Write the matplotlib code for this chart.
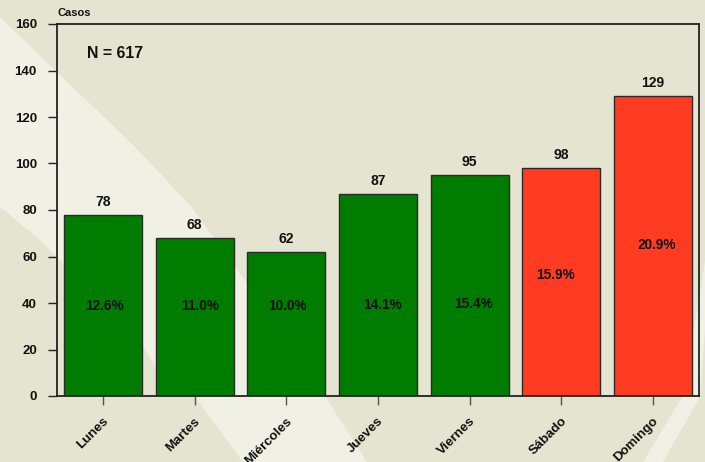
import matplotlib
matplotlib.use("Agg")
import matplotlib.pyplot as plt
from matplotlib.patches import Polygon

# ---- data ----
days = ["Lunes", "Martes", "Miércoles", "Jueves", "Viernes", "Sábado", "Domingo"]
cases = [78, 68, 62, 87, 95, 98, 129]
percent_labels = ["12.6%", "11.0%", "10.0%", "14.1%", "15.4%", "15.9%", "20.9%"]
total_label = "N = 617"
y_ticks = [0, 20, 40, 60, 80, 100, 120, 140, 160]

# ---- styling / positions ----
GREEN = "#007C00"
RED = "#FF3C22"
BG = "#E5E4D0"
LIGHT = "#F0F0E4"
bar_colors = [GREEN] * 5 + [RED] * 2
pct_y = [38.8, 38.7, 38.7, 39.1, 39.6, 52.2, 65.0]
pct_dx_px = [2, 5, 1, 5, 3.5, -5.5, 4]

plt.rcParams['font.family'] = ['Liberation Sans', 'DejaVu Sans']
plt.rcParams['font.weight'] = 'bold'

W, H = 705, 462
fig = plt.figure(figsize=(W / 100, H / 100), dpi=100, facecolor=BG)

def fp(pts):
    return [(x / W, 1 - y / H) for x, y in pts]

# light background beams
beam1 = [(0, 17), (57, 72), (133, 145), (190, 205), (247, 283), (325, 396), (367, 462),
         (243, 462), (195, 397), (156, 368), (142, 345), (55, 255), (40, 240), (0, 207)]
beam2 = [(643, 462), (682, 397), (694, 330), (705, 260), (705, 330), (700, 397), (663, 462)]
for b in (beam1, beam2):
    fig.add_artist(Polygon(fp(b), closed=True, transform=fig.transFigure,
                           facecolor=LIGHT, edgecolor='none', zorder=0))

ax = fig.add_axes([57 / W, 1 - 396 / H, (699 - 57) / W, (396 - 24) / H])
ax.set_facecolor('none')
ax.set_xlim(-0.5, 6.5)
ax.set_ylim(0, 160)

x = list(range(len(days)))
ax.bar(x, cases, width=0.85, color=bar_colors, edgecolor='#2a2a2a', linewidth=1.0, zorder=2)

for i, v in enumerate(cases):
    ax.annotate(str(v), (i, v), xytext=(0, 9.4), textcoords='offset points',
                ha='center', va='center', fontsize=10, fontweight='bold', color='#111111')
    ax.annotate(percent_labels[i], (i, pct_y[i]), xytext=(pct_dx_px[i] * 0.72, 0),
                textcoords='offset points', ha='center', va='center',
                fontsize=9.8, fontweight='bold', color='#111111')

for s in ax.spines.values():
    s.set_color('#222222')
    s.set_linewidth(1.3)

ax.set_yticks(y_ticks)
ax.set_yticklabels([str(t) for t in y_ticks], fontsize=9.5, fontweight='bold', color='#111111')
ax.tick_params(axis='y', length=6.5, width=1.0, color='#222222', pad=8)

ax.set_xticks(x)
ax.set_xticklabels([])
ax.tick_params(axis='x', length=6.5, width=1.0, color='#555555')

for i, d in enumerate(days):
    ax.annotate(d, (i, 0), xytext=(2.5, -17), textcoords='offset points',
                rotation=45, rotation_mode='anchor', ha='right', va='center',
                fontsize=9.5, fontweight='bold', color='#111111', annotation_clip=False)

ax.text((87 - 57) / 642, (396 - 54) / 372, total_label, transform=ax.transAxes,
        ha='left', va='center', fontsize=11.4, fontweight='bold', color='#111111')
fig.text(57 / W, 1 - 13 / H, "Casos", ha='left', va='center', fontsize=8,
         fontweight='bold', color='#111111')

fig.savefig("out.png", dpi=100, facecolor=BG)
